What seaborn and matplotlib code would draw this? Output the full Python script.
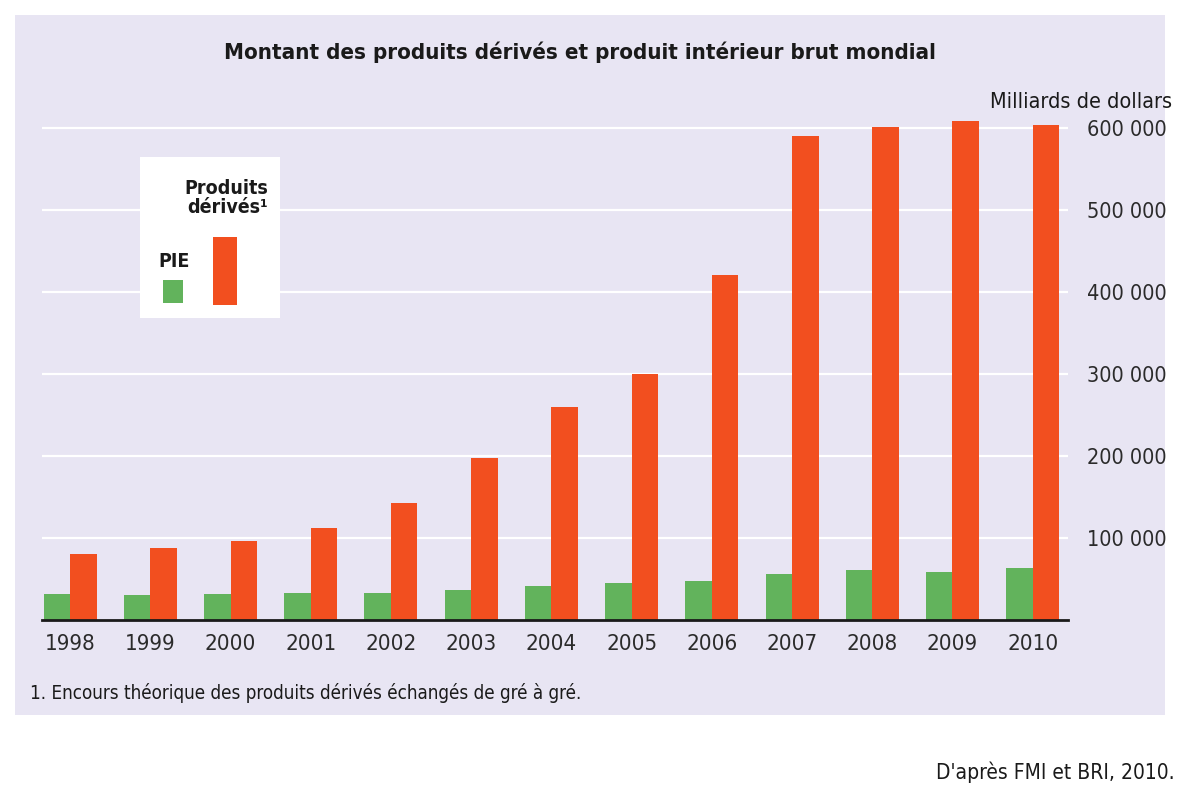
import matplotlib
matplotlib.use("Agg")
import matplotlib.pyplot as plt
from matplotlib.patches import Rectangle
import seaborn as sns
import pandas as pd

# ---- data (milliards de dollars) ----
years = [str(y) for y in range(1998, 2011)]
pib = [32000, 31000, 32000, 32500, 33000, 37000, 42000, 45000, 48000, 56000, 61000, 58000, 63000]
derives = [80000, 88000, 96000, 112000, 143000, 197000, 260000, 300000, 420000, 590000, 601000, 608000, 603000]
series_names = ["PIE", "Produits dérivés"]
ytick_vals = [100000, 200000, 300000, 400000, 500000, 600000]
ytick_labels = ["100 000", "200 000", "300 000", "400 000", "500 000", "600 000"]

df = pd.DataFrame({
    "Année": years * 2,
    "Valeur": pib + derives,
    "Série": [series_names[0]] * len(years) + [series_names[1]] * len(years),
})

sns.set_theme(style="white")
plt.rcParams["font.family"] = ["DejaVu Sans"]
plt.rcParams["font.stretch"] = "condensed"

W, H = 1182, 807
lavender = "#e8e5f3"
green = "#62b35c"
orange = "#f24f1f"
txt = "#2b2b2b"

fig = plt.figure(figsize=(W / 100, H / 100), dpi=100)
fig.patch.set_facecolor("white")
bg = Rectangle((15 / W, 1 - 715 / H), (1165 - 15) / W, (715 - 15) / H,
               transform=fig.transFigure, facecolor=lavender,
               edgecolor="none", zorder=-10)
fig.patches.append(bg)

ax = fig.add_axes([42 / W, 1 - 620 / H, (1068 - 42) / W, 525 / H])
ax.set_facecolor("none")
sns.barplot(data=df, x="Année", y="Valeur", hue="Série", hue_order=series_names,
            palette=[green, orange], width=0.66, gap=0, saturation=1,
            legend=False, ax=ax, zorder=3, linewidth=0, edgecolor="none")

ax.set_xlim(-0.35, 12.44)
ax.set_ylim(0, 640000)
ax.set_xlabel("")
ax.set_ylabel("")
ax.yaxis.tick_right()
ax.set_yticks(ytick_vals)
ax.set_yticklabels(ytick_labels, fontsize=15.5, color=txt)
ax.tick_params(axis="y", length=0, pad=14)
ax.tick_params(axis="x", length=0, pad=10, labelsize=16, labelcolor=txt)
ax.grid(axis="y", color="white", linewidth=1.6)
ax.set_axisbelow(True)
for s in ["top", "left", "right"]:
    ax.spines[s].set_visible(False)
ax.spines["bottom"].set_color("#1a1a1a")
ax.spines["bottom"].set_linewidth(2)
ax.spines["bottom"].set_zorder(4)

# Title and annotations
fig.text(580 / W, 1 - 52 / H, "Montant des produits dérivés et produit intérieur brut mondial",
         ha="center", va="center", fontsize=16, fontweight="bold", color="#1a1a1a")
fig.text(1172 / W, 1 - 102 / H, "Milliards de dollars", ha="right", va="center",
         fontsize=15.5, color="#1a1a1a")
fig.text(30 / W, 1 - 693 / H, "1. Encours théorique des produits dérivés échangés de gré à gré.",
         ha="left", va="center", fontsize=13.5, color="#1a1a1a")
fig.text(1175 / W, 1 - 772 / H, "D'après FMI et BRI, 2010.", ha="right", va="center",
         fontsize=15, color="#1a1a1a")

# Legend box
lax = fig.add_axes([140 / W, 1 - 318 / H, 140 / W, 161 / H])
lax.set_xlim(140, 280)
lax.set_ylim(318, 157)
lax.set_facecolor("white")
lax.set_xticks([])
lax.set_yticks([])
for s in lax.spines.values():
    s.set_visible(False)
lax.text(268, 198, "Produits\ndérivés¹", ha="right", va="center", fontsize=14,
         fontweight="bold", color="#1a1a1a", linespacing=1.0)
lax.text(158, 262, "PIE", ha="left", va="center", fontsize=14,
         fontweight="bold", color="#1a1a1a")
lax.add_patch(Rectangle((163, 280), 20, 23, facecolor=green, edgecolor="none"))
lax.add_patch(Rectangle((213, 237), 24, 68, facecolor=orange, edgecolor="none"))

fig.savefig("out.png", dpi=100)
